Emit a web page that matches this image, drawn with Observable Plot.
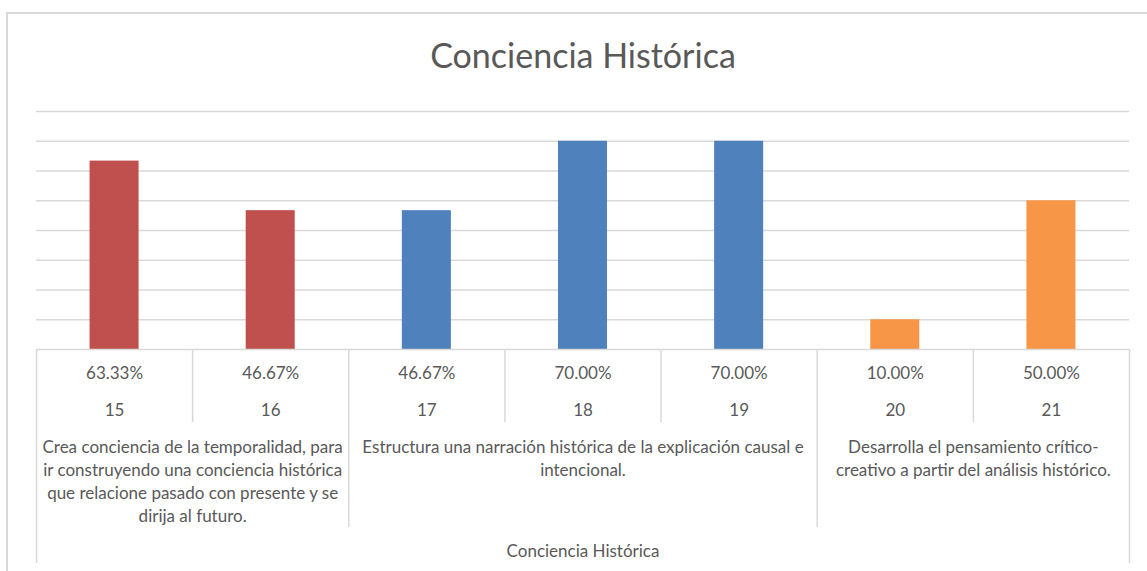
<!DOCTYPE html>
<html>
<head>
<meta charset="utf-8">
<script src="https://cdn.jsdelivr.net/npm/d3@7"></script>
<script src="https://cdn.jsdelivr.net/npm/@observablehq/plot@0.6"></script>
<style>
  html, body { margin: 0; padding: 0; background: #fff; width: 1147px; height: 571px; overflow: hidden; }
  #border { position: absolute; left: 6px; top: 12px; width: 1141px; height: 559px; border-left: 2px solid #d9d9d9; border-top: 2px solid #d9d9d9; box-sizing: border-box; }
  #chart { position: absolute; left: 0; top: 0; }
</style>
</head>
<body>
<div id="border"></div>
<div id="chart"></div>
<script>
// ---- data ----
const chartTitle = "Conciencia Histórica";
const items = ["15", "16", "17", "18", "19", "20", "21"];
const values = [0.6333, 0.4667, 0.4667, 0.70, 0.70, 0.10, 0.50];
const itemGroup = [0, 0, 1, 1, 1, 2, 2];
const groupLabels = [
  "Crea conciencia de la temporalidad, para\nir construyendo una conciencia histórica\nque relacione pasado con presente y se\ndirija al futuro.",
  "Estructura una narración histórica de la explicación causal e\nintencional.",
  "Desarrolla el pensamiento crítico-\ncreativo a partir del análisis histórico."
];
const outerLabel = "Conciencia Histórica";
const groupColors = ["#C0504D", "#4F81BD", "#F79646"];
const yTicks = [0.1, 0.2, 0.3, 0.4, 0.5, 0.6, 0.7, 0.8];

// ---- derived tables ----
const rows = items.map((item, i) => ({
  item, i, value: values[i], group: itemGroup[i],
  center: i + 0.5, label: d3.format(".2%")(values[i])
}));
const groups = groupLabels.map((label, g) => {
  const idx = rows.filter(r => r.group === g).map(r => r.i);
  return { label, g, start: d3.min(idx), end: d3.max(idx) + 1, center: (d3.min(idx) + d3.max(idx) + 1) / 2 };
});
const boundaries = d3.range(items.length + 1).map(b => {
  const outer = b === 0 || b === items.length;
  const groupEdge = groups.some(g => g.start === b || g.end === b);
  return { b, kind: outer ? "outer" : groupEdge ? "group" : "item" };
});

const barHalf = 0.157; // half bar width as fraction of a category
const grid = "#d9d9d9";
const textColor = "#595959";
const fontSize = 17;

const chart = Plot.plot({
  width: 1147,
  height: 571,
  marginTop: 111,
  marginBottom: 222,
  marginLeft: 36,
  marginRight: 18,
  x: { type: "linear", domain: [0, items.length], axis: null },
  y: { domain: [0, 0.8], axis: null },
  style: { fontFamily: "Lato, 'Open Sans', sans-serif", color: textColor, background: "transparent", overflow: "visible" },
  marks: [
    Plot.ruleY(yTicks, { x1: 0, x2: items.length, stroke: grid, strokeWidth: 1.5 }),
    Plot.rectY(rows, {
      x1: d => d.center - barHalf, x2: d => d.center + barHalf,
      y1: 0, y2: "value",
      fill: d => groupColors[d.group]
    }),
    Plot.ruleY([0], { x1: 0, x2: items.length, stroke: grid, strokeWidth: 1.5 }),
    // table vertical lines
    Plot.ruleX(boundaries.filter(d => d.kind === "item"), { x: "b", y1: 0, y2: 0, insetBottom: -73, stroke: grid, strokeWidth: 1.5 }),
    Plot.ruleX(boundaries.filter(d => d.kind === "group"), { x: "b", y1: 0, y2: 0, insetBottom: -178, stroke: grid, strokeWidth: 1.5 }),
    Plot.ruleX(boundaries.filter(d => d.kind === "outer"), { x: "b", y1: 0, y2: 0, insetBottom: -214, stroke: grid, strokeWidth: 1.5 }),
    // table text
    Plot.text(rows, { x: "center", y: 0, text: "label", dy: 24, fontSize, fill: textColor }),
    Plot.text(rows, { x: "center", y: 0, text: "item", dy: 61, fontSize, fill: textColor }),
    Plot.text(groups, { x: "center", y: 0, text: "label", dy: 87, lineAnchor: "top", lineHeight: 1.353, fontSize, fill: textColor }),
    Plot.text([outerLabel], { x: items.length / 2, y: 0, dy: 202, fontSize, fill: textColor }),
    // title
    Plot.text([chartTitle], { frameAnchor: "top", lineAnchor: "middle", dy: -54, fontSize: 34, fill: textColor })
  ]
});
document.getElementById("chart").append(chart);
</script>
</body>
</html>
